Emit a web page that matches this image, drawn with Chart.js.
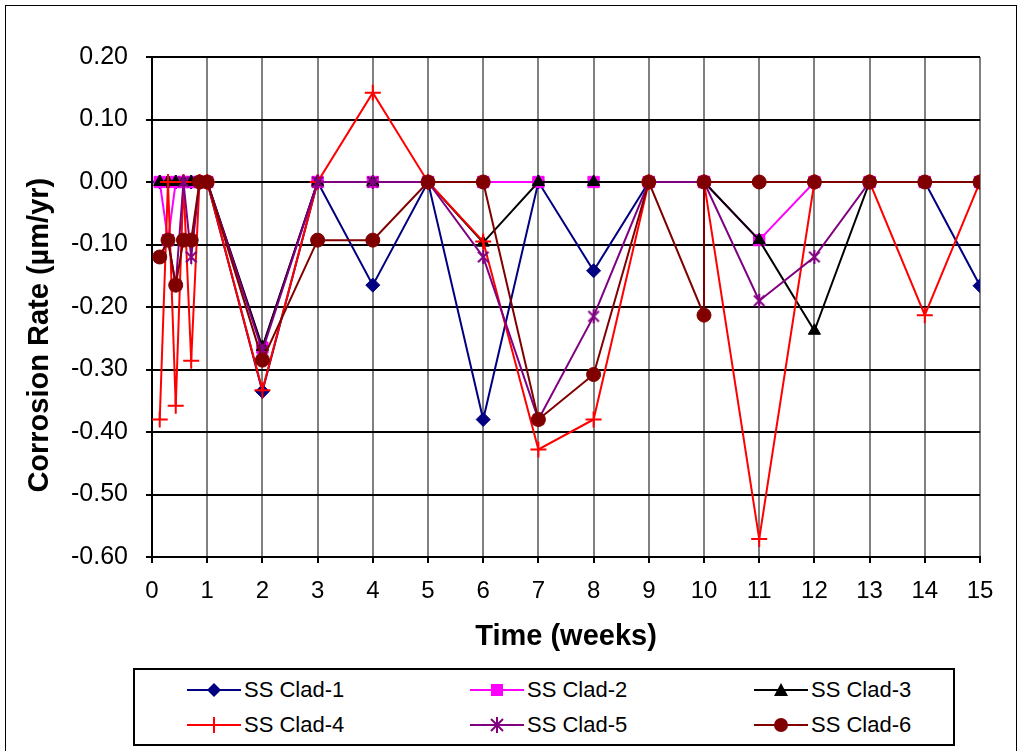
<!DOCTYPE html>
<html>
<head>
<meta charset="utf-8">
<script src="https://cdn.jsdelivr.net/npm/chart.js@4.4.1/dist/chart.umd.min.js"></script>
<style>
  body { margin: 0; background: #fff; font-family: "Liberation Sans", Arial, sans-serif; }
  #frame { position: absolute; left: 5px; top: 5px; width: 1012px; height: 760px; border: 1px solid #000; box-sizing: border-box; }
  #wrap { position: absolute; left: 0; top: 0; width: 1023px; height: 665px; }
  #legend { position: absolute; left: 133px; top: 668px; width: 822px; height: 78px; border: 2px solid #000; box-sizing: border-box; }
  .item { position: absolute; height: 30px; display: flex; align-items: center; font-size: 22px; font-family: "Liberation Sans", Arial, sans-serif; }
  .item svg { margin-right: 3px; }
</style>
</head>
<body>
<div id="frame"></div>
<div id="wrap"><canvas id="chart"></canvas></div>
<div id="legend"></div>
<script>
// time in weeks (first week read daily), week 10 appears twice
const weeks = [0.14, 0.29, 0.43, 0.57, 0.71, 0.86, 1, 2, 3, 4, 5, 6, 7, 8, 9, 10, 10, 11, 12, 13, 14, 15];

const clad1 = [0, 0, 0, 0, 0, 0, 0, -0.335, 0, -0.165, 0, -0.38, 0, -0.142, 0, 0, 0, 0, 0, 0, 0, -0.166];
const clad2 = [0, -0.093, 0, 0, 0, 0, 0, -0.265, 0, 0, 0, 0, 0, 0, 0, 0, 0, -0.093, 0, 0, 0, 0];
const clad3 = [0, 0, 0, 0, 0, 0, 0, -0.264, 0, 0, 0, -0.097, 0, 0, 0, 0, 0, -0.093, -0.238, 0, 0, 0];
const clad4 = [-0.38, 0, -0.358, 0, -0.286, 0, 0, -0.333, 0, 0.143, 0, -0.095, -0.428, -0.38, 0, 0, 0, -0.571, 0, 0, -0.213, 0];
const clad5 = [-0.12, -0.093, -0.165, 0, -0.12, 0, 0, -0.27, 0, 0, 0, -0.12, -0.38, -0.215, 0, 0, 0, -0.19, -0.12, 0, 0, 0];
const clad6 = [-0.12, -0.093, -0.165, -0.093, -0.093, 0, 0, -0.285, -0.093, -0.093, 0, 0, -0.38, -0.308, 0, -0.213, 0, 0, 0, 0, 0, 0];

const seriesNames = ['SS Clad-1', 'SS Clad-2', 'SS Clad-3', 'SS Clad-4', 'SS Clad-5', 'SS Clad-6'];
const seriesValues = [clad1, clad2, clad3, clad4, clad5, clad6];
const seriesColors = ['#000080', '#FF00FF', '#000000', '#FF0000', '#800080', '#800000'];

// asterisk marker (x with a vertical bar), like the spreadsheet one
function starMarker(color, r) {
    const c = document.createElement('canvas');
    c.width = c.height = r * 2 + 2;
    const g = c.getContext('2d');
    g.strokeStyle = color;
    g.lineWidth = 2;
    const m = r + 1;
    g.beginPath();
    g.moveTo(m - r * 0.75, m - r * 0.75); g.lineTo(m + r * 0.75, m + r * 0.75);
    g.moveTo(m + r * 0.75, m - r * 0.75); g.lineTo(m - r * 0.75, m + r * 0.75);
    g.moveTo(m, m - r); g.lineTo(m, m + r);
    g.stroke();
    return c;
}

const markers = [
    { style: 'rectRot', r: 7 },
    { style: 'rect', r: 8 },
    { style: 'triangle', r: 7 },
    { style: 'cross', r: 8 },
    { style: starMarker('#800080', 7), r: 7 },
    { style: 'circle', r: 7 }
];

const datasets = seriesNames.map((name, i) => ({
    label: name,
    data: weeks.map((w, k) => ({ x: w, y: seriesValues[i][k] })),
    borderColor: seriesColors[i],
    backgroundColor: seriesColors[i],
    borderWidth: 2,
    pointStyle: markers[i].style,
    pointRadius: markers[i].r,
    pointBorderWidth: i === 3 ? 2 : 1,
    pointBorderColor: seriesColors[i],
    pointBackgroundColor: seriesColors[i],
    tension: 0,
    order: 6 - i
}));

const tickFont = { family: 'Liberation Sans', size: 25 };
const titleFont = { family: 'Liberation Sans', size: 29, weight: 'bold' };

new Chart(document.getElementById('chart').getContext('2d'), {
    type: 'line',
    data: { datasets: datasets },
    options: {
        responsive: true,
        maintainAspectRatio: false,
        animation: false,
        layout: { padding: { left: 10, top: 57, right: 43, bottom: 0 } },
        plugins: { legend: { display: false }, tooltip: { enabled: false } },
        scales: {
            x: {
                type: 'linear',
                min: 0, max: 15,
                afterFit: (s) => { s.height = 108 },
                ticks: { stepSize: 1, color: '#000', padding: 14, font: { family: 'Liberation Sans', size: 24 } },
                grid: { color: (c) => c.tick && c.tick.value === 0 ? '#000' : '#808080', lineWidth: 2, tickLength: 6, tickColor: '#000' },
                border: { color: '#000', width: 2 },
                title: { display: true, text: 'Time (weeks)', color: '#000', font: titleFont, padding: { top: 0, bottom: 11 } }
            },
            y: {
                min: -0.6, max: 0.2,
                afterFit: (s) => { s.width = 142 },
                ticks: {
                    stepSize: 0.1, color: '#000', padding: 18,
                    font: tickFont,
                    callback: (v) => Math.abs(v) < 1e-9 ? '0.00' : v.toFixed(2)
                },
                grid: { color: '#000', lineWidth: 2, tickLength: 6, tickColor: '#000' },
                border: { color: '#000', width: 2 },
                // trailing spaces push the title a bit lower, as in the original
                title: { display: true, text: 'Corrosion Rate (µm/yr)       ', color: '#000', font: titleFont, padding: { top: 13, bottom: 0 } }
            }
        }
    }
});

// legend box: 3 columns x 2 rows
const legendCols = [52, 335, 619];
const legendRows = [5, 40];
function markerSvg(i) {
    const col = seriesColors[i];
    let m = '';
    if (i === 0) m = `<polygon points="27,7 34,14 27,21 20,14" fill="${col}"/>`;
    if (i === 1) m = `<rect x="21" y="8" width="12" height="12" fill="${col}"/>`;
    if (i === 2) m = `<polygon points="27,7 34,20 20,20" fill="${col}"/>`;
    if (i === 3) m = `<path d="M27,6 V22 M19,14 H35" stroke="${col}" stroke-width="2"/>`;
    if (i === 4) m = `<path d="M21,8 L33,20 M33,8 L21,20 M27,6 V22" stroke="${col}" stroke-width="2"/>`;
    if (i === 5) m = `<circle cx="27" cy="14" r="7" fill="${col}"/>`;
    return `<svg width="54" height="28"><line x1="0" y1="14" x2="54" y2="14" stroke="${col}" stroke-width="2"/>${m}</svg>`;
}
const legendEl = document.getElementById('legend');
seriesNames.forEach((name, i) => {
    const d = document.createElement('div');
    d.className = 'item';
    d.style.left = legendCols[i % 3] + 'px';
    d.style.top = legendRows[Math.floor(i / 3)] + 'px';
    d.innerHTML = markerSvg(i) + '<span>' + name + '</span>';
    legendEl.appendChild(d);
});
</script>
</body>
</html>
